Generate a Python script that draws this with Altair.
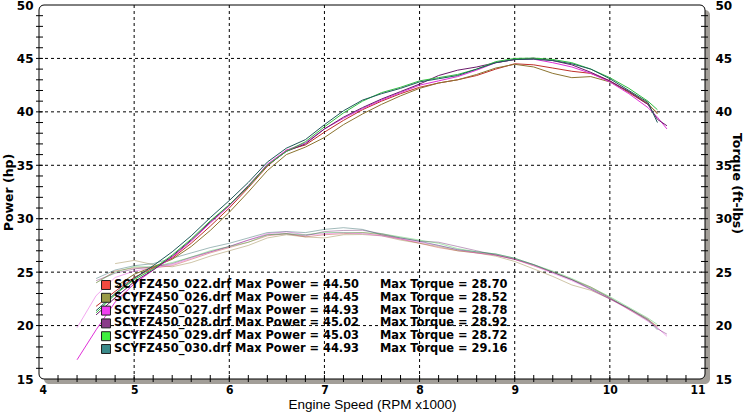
import altair as alt
import pandas as pd

# ---------------- data ----------------
files = ["SCYFZ450_022.drf", "SCYFZ450_026.drf", "SCYFZ450_027.drf",
         "SCYFZ450_028.drf", "SCYFZ450_029.drf", "SCYFZ450_030.drf"]
max_power = ["44.50", "44.45", "44.93", "45.02", "45.03", "44.93"]
max_torque = ["28.70", "28.52", "28.78", "28.92", "28.72", "29.16"]

rpm = [4.4, 4.6, 4.8, 5.0, 5.2, 5.4, 5.6, 5.8, 6.0, 6.2, 6.4, 6.6, 6.8, 7.0, 7.2, 7.4,
       7.6, 7.8, 8.0, 8.2, 8.4, 8.6, 8.8, 9.0, 9.2, 9.4, 9.6, 9.8, 10.0, 10.2, 10.4, 10.5, 10.6]

p022 = [None, 21.8, 23.2, 24.5, 25.4, 26.3, 27.7, 29.3, 31.0, 32.9, 34.9, 36.4, 36.9, 38.1, 39.2, 40.2,
        41.0, 41.7, 42.3, 42.7, 43.0, 43.4, 44.0, 44.5, 44.4, 44.1, 43.8, 43.6, 42.9, 41.8, 40.7, 39.9, None]
p026 = [None, None, 23.6, 24.8, 25.5, 26.2, 27.4, 28.9, 30.6, 32.5, 34.5, 36.0, 36.7, 37.6, 38.8, 39.8,
        40.7, 41.5, 42.2, 42.7, 43.0, 43.5, 44.1, 44.45, 44.2, 43.6, 43.2, 43.3, 42.8, 41.9, 40.8, 39.8, None]
p027 = [16.8, 19.6, 22.2, 23.9, 25.2, 26.4, 27.9, 29.6, 31.2, 33.0, 35.1, 36.4, 37.1, 38.4, 39.4, 40.3,
        41.1, 41.8, 42.5, 42.9, 43.3, 43.9, 44.6, 44.9, 44.93, 44.6, 44.2, 43.6, 42.8, 41.7, 40.4, 39.5, 38.4]
p028 = [None, 21.0, 22.6, 24.1, 25.2, 26.5, 28.0, 29.7, 31.3, 33.1, 35.0, 36.3, 37.0, 38.4, 39.5, 40.4,
        41.2, 41.9, 42.6, 43.4, 43.9, 44.2, 44.6, 44.9, 45.02, 44.8, 44.4, 43.7, 42.9, 41.9, 40.7, 39.3, 38.7]
p029 = [None, 21.2, 22.9, 24.3, 25.3, 26.6, 28.1, 29.8, 31.3, 33.0, 35.0, 36.3, 37.2, 38.6, 39.9, 41.0,
        41.8, 42.3, 42.9, 43.2, 43.5, 44.0, 44.7, 45.0, 45.03, 44.9, 44.6, 44.0, 43.2, 42.2, 41.0, 40.2, None]
p030 = [None, 21.4, 23.0, 24.4, 25.6, 26.9, 28.4, 30.1, 31.7, 33.4, 35.3, 36.6, 37.4, 38.8, 40.1, 41.1,
        41.7, 42.2, 42.8, 43.1, 43.4, 44.0, 44.6, 44.9, 44.93, 44.8, 44.5, 44.0, 43.1, 42.0, 40.9, 39.0, None]

t022 = [None, 24.0, 25.1, 25.4, 25.4, 25.6, 26.2, 26.8, 27.3, 27.8, 28.4, 28.6, 28.3, 28.5, 28.6, 28.7,
        28.5, 28.1, 27.7, 27.3, 27.0, 26.8, 26.6, 26.2, 25.6, 25.0, 24.3, 23.6, 22.6, 21.5, 20.5, 19.9, None]
t026 = [None, None, 25.8, 26.1, 25.7, 25.5, 25.9, 26.5, 27.0, 27.5, 28.2, 28.5, 28.3, 28.2, 28.5, 28.52,
        28.4, 28.0, 27.7, 27.4, 27.0, 26.8, 26.5, 26.0, 25.3, 24.6, 23.8, 23.3, 22.5, 21.6, 20.6, 19.9, None]
t027 = [19.8, 22.8, 24.5, 25.1, 25.4, 25.7, 26.3, 26.9, 27.4, 28.0, 28.6, 28.78, 28.5, 28.6, 28.7, 28.6,
        28.4, 28.1, 27.8, 27.5, 27.1, 26.8, 26.6, 26.2, 25.6, 24.9, 24.2, 23.4, 22.5, 21.5, 20.4, 19.8, 19.0]
t028 = [None, 24.2, 24.9, 25.3, 25.5, 25.8, 26.4, 26.9, 27.4, 28.0, 28.5, 28.6, 28.4, 28.8, 28.9, 28.92,
        28.6, 28.2, 27.9, 27.8, 27.4, 27.0, 26.6, 26.2, 25.7, 25.0, 24.3, 23.4, 22.5, 21.6, 20.6, 19.7, 19.2]
t029 = [None, 24.0, 25.0, 25.5, 25.5, 25.9, 26.4, 27.0, 27.4, 27.8, 28.5, 28.6, 28.5, 28.72, 28.7, 28.7,
        28.6, 28.3, 28.0, 27.7, 27.2, 26.9, 26.7, 26.3, 25.7, 25.1, 24.4, 23.6, 22.7, 21.7, 20.7, 20.1, None]
t030 = [None, 24.4, 25.2, 25.6, 25.8, 26.3, 26.8, 27.3, 27.7, 28.2, 28.7, 28.8, 28.7, 29.0, 29.16, 29.0,
        28.5, 28.2, 27.9, 27.5, 27.1, 26.9, 26.7, 26.3, 25.7, 25.0, 24.3, 23.5, 22.6, 21.6, 20.5, 19.6, None]

power_series = [p022, p026, p027, p028, p029, p030]
torque_series = [t022, t026, t027, t028, t029, t030]

line_colors = ["#c0302a", "#8c7430", "#e030d8", "#6a1a6a", "#30c040", "#1f5a5a"]
swatch_colors = ["#f04a40", "#9a9a48", "#f040f0", "#8a3a8a", "#40f040", "#3a8a8a"]

x_labels = [4, 5, 6, 7, 8, 9, 10, 11]
y_labels = [15, 20, 25, 30, 35, 40, 45, 50]
x_grid = [5, 6, 7, 8, 9, 10]
y_grid = [20, 25, 30, 35, 40, 45]
x_minor = [round(4.2 + 0.2 * i, 1) for i in range(34)]
y_minor = list(range(16, 50))

# ---------------- tables ----------------
prow, trow = [], []
for f, ps, ts in zip(files, power_series, torque_series):
    for r, p, t in zip(rpm, ps, ts):
        if p is not None:
            prow.append({"file": f, "rpm": r, "hp": p})
        if t is not None:
            trow.append({"file": f, "rpm": r, "tq": t})
pdf = pd.DataFrame(prow)
tdf = pd.DataFrame(trow)
leg = pd.DataFrame({
    "file": files,
    "left": [f"{f} Max Power = {p}" for f, p in zip(files, max_power)],
    "right": [f"Max Torque = {t}" for t in max_torque],
})
one = pd.DataFrame({"a": [0]})

W, H = 666, 374
xs = alt.Scale(domain=[4, 11], nice=False, zero=False)
ys = alt.Scale(domain=[15, 50], nice=False, zero=False)
cs = alt.Scale(domain=files, range=line_colors)
FONT = "DejaVu Sans"

x_axis = alt.Axis(
    values=x_labels, domain=False, ticks=False, grid=False, format="d",
    labelFont="Liberation Sans Narrow, DejaVu Sans Condensed", labelFontSize=12,
    labelFontWeight="bold", labelColor="black", labelPadding=5,
    title="Engine Speed (RPM x1000)", titleFont="Liberation Sans, DejaVu Sans",
    titleFontSize=13.5, titleFontWeight="normal", titleColor="black",
    titleX=333, titleY=32, titleAlign="center", titleBaseline="bottom")

def X(field):
    return alt.X(field, scale=xs, axis=x_axis, title="Engine Speed (RPM x1000)")

shadow = alt.Chart(one).mark_rect(fill="#a29e98", cornerRadius=5).encode(
    x=alt.value(5), x2=alt.value(W + 5), y=alt.value(5), y2=alt.value(H + 5))
frame = alt.Chart(one).mark_rect(fill="white", stroke="black", strokeWidth=1, cornerRadius=5).encode(
    x=alt.value(0), x2=alt.value(W), y=alt.value(0), y2=alt.value(H))

vgrid = alt.Chart(pd.DataFrame({"v": x_grid})).mark_rule(
    color="black", strokeDash=[3, 3], strokeWidth=1).encode(
    x=X("v:Q"), y=alt.value(0), y2=alt.value(H))
hgrid = alt.Chart(pd.DataFrame({"v": y_grid})).mark_rule(
    color="black", strokeDash=[3, 3], strokeWidth=1).encode(
    y=alt.Y("v:Q", scale=ys, axis=None), x=alt.value(0), x2=alt.value(W))

torque_lines = alt.Chart(tdf).mark_line(strokeWidth=1, opacity=0.42).encode(
    x=X("rpm:Q"),
    y=alt.Y("tq:Q", scale=ys, axis=alt.Axis(
        orient="right", values=y_labels, domain=False, ticks=False, grid=False,
        labelFont=FONT, labelFontSize=12, labelFontWeight="bold", labelColor="black",
        labelPadding=10, title="Torque (ft-lbs)", titleFont=FONT, titleFontSize=12.5,
        titleFontWeight="bold", titleColor="black", titleAngle=90, titleX=31, titleY=178,
        titleAlign="center", titleBaseline="middle")),
    color=alt.Color("file:N", scale=cs, legend=None),
    detail="file:N")

power_lines = alt.Chart(pdf).mark_line(strokeWidth=1).encode(
    x=X("rpm:Q"),
    y=alt.Y("hp:Q", scale=ys, axis=alt.Axis(
        orient="left", values=y_labels, domain=False, ticks=False, grid=False,
        labelFont=FONT, labelFontSize=12, labelFontWeight="bold", labelColor="black",
        labelPadding=6, title="Power (hp)", titleFont=FONT, titleFontSize=12.5,
        titleFontWeight="bold", titleColor="black", titleAngle=270, titleX=-31, titleY=187,
        titleAlign="center", titleBaseline="middle")),
    color=alt.Color("file:N", scale=cs, legend=None),
    detail="file:N")

xt = alt.Chart(pd.DataFrame({"v": x_minor})).mark_rule(color="black").encode(
    x=X("v:Q"), y=alt.value(H - 4), y2=alt.value(H + 3))
ytl = alt.Chart(pd.DataFrame({"v": y_minor})).mark_rule(color="black").encode(
    y=alt.Y("v:Q", scale=ys, axis=None), x=alt.value(-3), x2=alt.value(4))
ytr = alt.Chart(pd.DataFrame({"v": y_minor})).mark_rule(color="black").encode(
    y=alt.Y("v:Q", scale=ys, axis=None), x=alt.value(W - 4), x2=alt.value(W + 3))

ly = alt.Y("file:N", scale=alt.Scale(type="point", domain=files, range=[280, 344], padding=0),
           axis=None)
swatch = alt.Chart(leg).mark_square(size=80, stroke="#202020", strokeWidth=1, opacity=1).encode(
    x=alt.value(67), y=ly,
    fill=alt.Fill("file:N", scale=alt.Scale(domain=files, range=swatch_colors), legend=None))
ltext = alt.Chart(leg).mark_text(align="left", baseline="middle", font=FONT, fontSize=11.4,
                                 fontWeight="bold", color="black").encode(
    x=alt.value(75), y=ly, text="left:N")
rtext = alt.Chart(leg).mark_text(align="left", baseline="middle", font=FONT, fontSize=11.4,
                                 fontWeight="bold", color="black").encode(
    x=alt.value(341), y=ly, text="right:N")

chart = alt.layer(
    shadow, frame, vgrid, hgrid, torque_lines, power_lines, xt, ytl, ytr, swatch, ltext, rtext
).resolve_scale(y="independent", color="independent", fill="independent").properties(
    width=W, height=H,
    padding={"left": 39, "top": 5, "right": 39, "bottom": 34},
    autosize=alt.AutoSizeParams(type="none"),
    background="white",
).configure_view(stroke=None)

chart.save("out.html", embed_options={"renderer": "svg", "actions": False})
